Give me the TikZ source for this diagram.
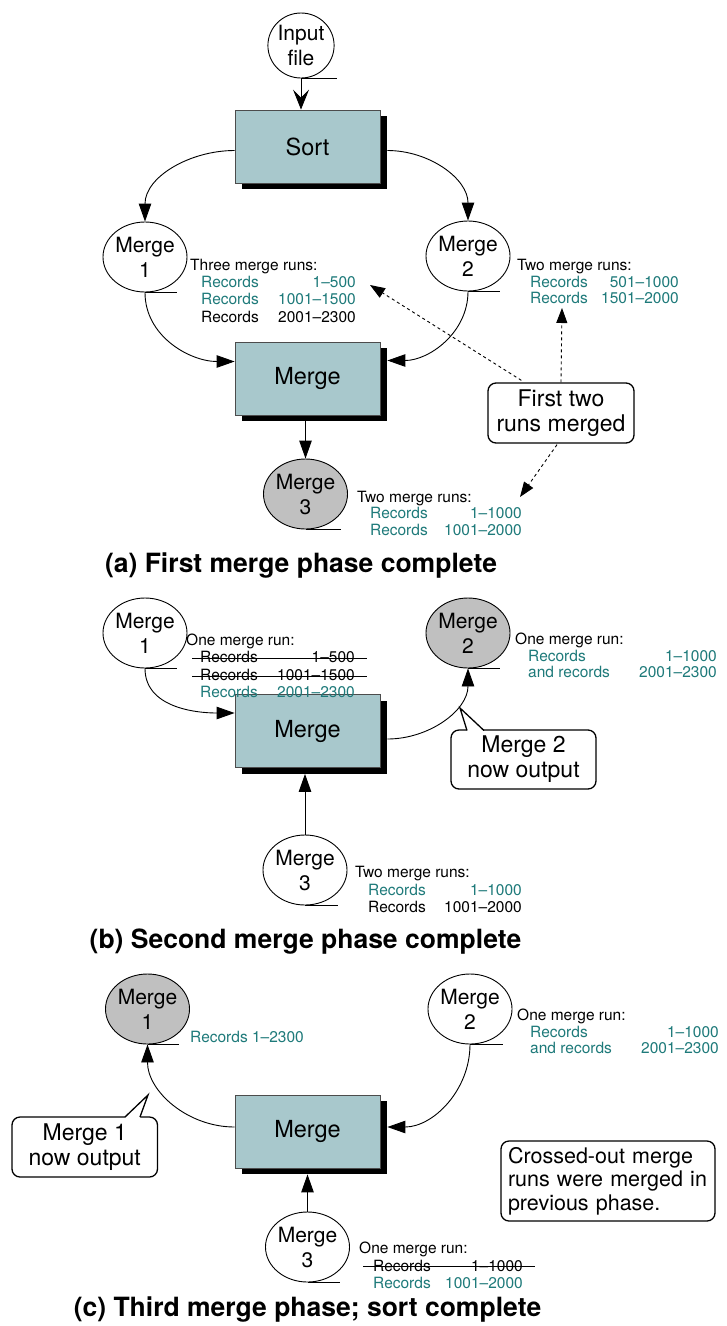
\documentclass[tikz,border=0pt]{standalone}
\usepackage{fontspec}
\setmainfont{TeX Gyre Heros}
\usetikzlibrary{arrows.meta,shadows,calc,shapes.geometric}
\definecolor{tealtxt}{RGB}{30,122,122}
\definecolor{boxfill}{RGB}{168,200,204}
\definecolor{diskgray}{RGB}{192,192,192}
\begin{document}
\begin{tikzpicture}[x=1pt,y=-1pt,
  disk/.style={draw, line width=0.9pt, ellipse, minimum width=76pt, minimum height=70pt, inner sep=0pt, align=center, font=\fontsize{21}{25}\selectfont, fill=white},
  gdisk/.style={disk, fill=diskgray},
  proc/.style={draw=black!70, line width=0.8pt, fill=boxfill, minimum width=145pt, minimum height=73pt, font=\fontsize{23.5}{26}\selectfont, general shadow={fill=black, shadow xshift=7pt, shadow yshift=-6pt}},
  small/.style={inner sep=0pt, font=\fontsize{15.5}{17}\selectfont},
  lab/.style={small, anchor=base west},
  num/.style={small, anchor=base east},
  tl/.style={lab, text=tealtxt},
  tn/.style={num, text=tealtxt},
  callout/.style={draw, line width=1.3pt, rounded corners=8pt, fill=white, align=center, font=\fontsize{23}{25}\selectfont, inner sep=0pt},
  captext/.style={font=\bfseries\fontsize{26.5}{30}\selectfont, inner sep=0pt},
  conn/.style={line width=0.9pt, -{Triangle[length=18pt,width=12.5pt]}},
  dconn/.style={line width=0.9pt, dash pattern=on 3pt off 3pt, -{Triangle[length=15pt,width=11pt]}},
  tail/.style={line width=0.9pt},
  strike/.style={line width=0.9pt}
]
\useasboundingbox (0,0) rectangle (727,1326);
\fill[white] (0,0) rectangle (727,1326);

% ================= (a)
\node[disk, minimum width=66pt, minimum height=65pt] (in) at (301,45.5) {Input\\file};
\draw[tail] (in.south) -- ++(36,0);
\node[proc] (sort) at (307.5,146.5) {Sort};
\draw[line width=0.9pt, -{Stealth[length=20pt,width=16pt,inset=8pt]}] (in.south) -- (sort.north -| in.south);

\node[disk] (a1) at (145,257) {Merge\\1};
\draw[tail] (a1.south) -- ++(32,0);
\node[disk] (a2) at (468,256) {Merge\\2};
\draw[tail] (a2.south) -- ++(32,0);
\node[proc] (am) at (307.5,378.5) {Merge};
\node[gdisk] (a3) at (305.5,494) {Merge\\3};
\draw[tail] (a3.south) -- ++(35,0);

\draw[conn] ($(sort.west)+(0,4)$) to[out=180,in=90] (a1.north);
\draw[conn] ($(sort.east)+(7,4)$) to[out=0,in=90] (a2.north);
\draw[conn] (a1.south) to[out=-90,in=180] ($(am.west)+(0,-17)$);
\draw[conn] (a2.south) to[out=-90,in=0] ($(am.east)+(7,-18)$);
\draw[conn] ($(am.south -| a3.north)+(0,6)$) -- (a3.north);

\node[lab] (a1t) at (190,270.5) {Three merge runs:};
\node[tl] (a1r1) at (201,287.5) {Records};
\node[tn] (a1n1) at (356,287.5) {1--500};
\node[tl] (a1r2) at (201,304.5) {Records};
\node[tn] (a1n2) at (356,304.5) {1001--1500};
\node[lab] (a1r3) at (201,322.5) {Records};
\node[num] (a1n3) at (356,322.5) {2001--2300};

\node[lab] (a2t) at (517,270.5) {Two merge runs:};
\node[tl] (a2r1) at (530,287.5) {Records};
\node[tn] (a2n1) at (679,287.5) {501--1000};
\node[tl] (a2r2) at (530,303.5) {Records};
\node[tn] (a2n2) at (679,303.5) {1501--2000};

\node[lab] (a3t) at (357,502.5) {Two merge runs:};
\node[tl] (a3r1) at (370,518.5) {Records};
\node[tn] (a3n1) at (522,518.5) {1--1000};
\node[tl] (a3r2) at (370,535.5) {Records};
\node[tn] (a3n2) at (522,535.5) {1001--2000};

\node[callout, minimum width=146pt, minimum height=60pt] (ftr) at (561,413) {First two\\runs merged};
\coordinate (p1) at (370,285);
\coordinate (p2) at (562,308);
\coordinate (p3) at (520,497);
\draw[dconn] ($(ftr.north west)+(34,-2)$) -- (p1);
\draw[dconn] (ftr.north) -- (p2);
\draw[dconn] ($(ftr.south)+(-4,1)$) -- (p3);

\node[captext] (capa) at (301,566) {(a) First merge phase complete};

% ================= (b)
\node[disk] (b1) at (145,633) {Merge\\1};
\draw[tail] (b1.south) -- ++(32,0);
\node[gdisk] (b2) at (468,633) {Merge\\2};
\draw[tail] (b2.south) -- ++(32,0);
\node[proc] (bm) at (307.5,731) {Merge};
\node[disk] (b3) at (305,870) {Merge\\3};
\draw[tail] (b3.south) -- ++(33,0);

\draw[conn] (b1.south) to[out=-90,in=180] ($(bm.west)+(0,-18)$);
\draw[conn] ($(bm.east)+(7,8)$) to[out=0,in=-90] (b2.south);
\draw[conn] (b3.north) -- ($(bm.south -| b3.north)+(0,6)$);

\node[lab] (b1t) at (186,645.5) {One merge run:};
\node[lab] (b1r1) at (200,662.5) {Records};
\node[num] (b1n1) at (355,662.5) {1--500};
\node[lab] (b1r2) at (200,680.5) {Records};
\node[num] (b1n2) at (355,680.5) {1001--1500};
\node[tl] (b1r3) at (200,697.5) {Records};
\node[tn] (b1n3) at (355,697.5) {2001--2300};
\draw[strike] (192,658) -- (367,658);
\draw[strike] (192,676) -- (367,676);

\node[lab] (b2t) at (515,644.5) {One merge run:};
\node[tl] (b2r1) at (528,661.5) {Records};
\node[tn] (b2n1) at (717,661.5) {1--1000};
\node[tl] (b2r2) at (528,677.5) {and records};
\node[tn] (b2n2) at (717,677.5) {2001--2300};

\node[lab] (b3t) at (355,877.5) {Two merge runs:};
\node[tl] (b3r1) at (368,895.5) {Records};
\node[tn] (b3n1) at (522,895.5) {1--1000};
\node[lab] (b3r2) at (368,912.5) {Records};
\node[num] (b3n2) at (522,912.5) {1001--2000};

\node[callout, minimum width=145pt, minimum height=59pt] (m2o) at (523.5,759.5) {Merge 2\\now output};
\coordinate (t2) at (460,708);
\fill[white] (467,731.5) -- (t2) -- (484,731.5) -- cycle;
\draw[line width=1.3pt, line join=miter] (467,730.5) -- (t2) -- (484,730.5);

\node[captext] (capb) at (305.5,942) {(b) Second merge phase complete};

% ================= (c)
\node[gdisk] (c1) at (147.5,1009) {Merge\\1};
\draw[tail] (c1.south) -- ++(31,0);
\node[disk] (c2) at (470,1009) {Merge\\2};
\draw[tail] (c2.south) -- ++(33,0);
\node[proc] (cm) at (307.5,1131.5) {Merge};
\node[disk] (c3) at (307.5,1247) {Merge\\3};
\draw[tail] (c3.south) -- ++(32,0);

\draw[conn] ($(cm.west)+(0,-4.5)$) to[out=180,in=-90] (c1.south);
\draw[conn] (c2.south) to[out=-90,in=0] ($(cm.east)+(7,-4.5)$);
\draw[conn] (c3.north) -- ($(cm.south -| c3.north)+(0,6)$);

\node[tl] (c1r) at (190,1042.5) {Records 1--2300};

\node[lab] (c2t) at (517,1020.5) {One merge run:};
\node[tl] (c2r1) at (530,1037.5) {Records};
\node[tn] (c2n1) at (719,1037.5) {1--1000};
\node[tl] (c2r2) at (530,1053.5) {and records};
\node[tn] (c2n2) at (719,1053.5) {2001--2300};

\node[lab] (c3t) at (359,1253.5) {One merge run:};
\node[lab] (c3r1) at (373,1271) {Records};
\node[num] (c3n1) at (523,1271) {1--1000};
\node[tl] (c3r2) at (373,1288.5) {Records};
\node[tn] (c3n2) at (523,1288.5) {1001--2000};
\draw[strike] (363,1266) -- (535,1266);

\node[callout, minimum width=145.5pt, minimum height=60pt] (m1o) at (84.75,1147) {Merge 1\\now output};
\coordinate (t1) at (148,1095);
\fill[white] (125,1118) -- (t1) -- (140,1118) -- cycle;
\draw[line width=1.3pt, line join=miter] (125,1117) -- (t1) -- (140,1117);

\node[callout, align=left, font=\fontsize{21.5}{23.5}\selectfont, minimum width=214pt, minimum height=80pt, inner sep=0pt, text width=200pt] (note) at (608,1181) {Crossed-out merge\\runs were merged in\\previous phase.};

\node[captext] (capc) at (307.5,1310) {(c) Third merge phase; sort complete};
\end{tikzpicture}
\end{document}
